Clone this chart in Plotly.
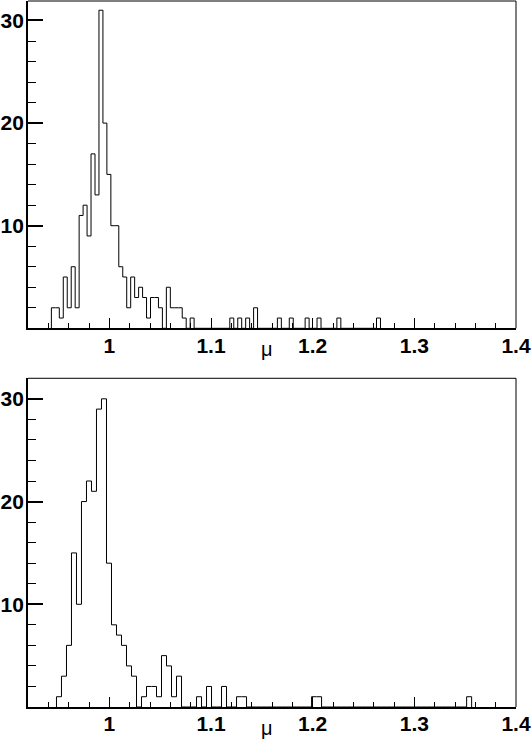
import plotly.graph_objects as go

# lower edge of first bin and bin width (x units)
top_start, top_width = 0.943, 0.0039
bot_start, bot_width = 0.948, 0.00492

top_counts = [2, 2, 1, 5, 2, 6, 2, 11, 12, 9,
              17, 13, 31, 20, 15, 10, 10, 6, 5, 2,
              5, 3, 4, 3, 1, 3, 3, 2, 0, 4,
              2, 2, 2, 1, 0, 1, 0, 0, 0, 0,
              0, 0, 0, 0, 0, 1, 0, 1, 0, 1,
              0, 2, 0, 0, 0, 0, 0, 1, 0, 0,
              1, 0, 0, 0, 1, 0, 0, 1, 0, 0,
              0, 0, 1, 0, 0, 0, 0, 0, 0, 0,
              0, 0, 1]

bot_counts = [1, 3, 6, 15, 10, 20, 22, 21, 29, 30,
              14, 8, 7, 6, 4, 3, 0, 1, 2, 2,
              1, 5, 4, 1, 3, 0, 0, 0, 1, 0,
              2, 0, 0, 2, 0, 0, 1, 1, 0, 0,
              0, 0, 0, 0, 0, 0, 0, 0, 0, 0,
              0, 1, 1, 0, 0, 0, 0, 0, 0, 0,
              0, 0, 0, 0, 0, 0, 0, 0, 0, 0,
              0, 0, 0, 0, 0, 0, 0, 0, 0, 0,
              0, 0, 1]

x_tickvals = [1.0, 1.1, 1.2, 1.3, 1.4]
x_ticktext = ["1", "1.1", "1.2", "1.3", "1.4"]
y_tickvals = [10, 20, 30]
y_ticktext = ["10", "20", "30"]
x_title = "μ"


def step_xy(start, width, counts):
    edges = [start + width * i for i in range(len(counts) + 1)]
    xs = [edges[0]] + edges[:-1] + [edges[-1]]
    ys = [0] + list(counts) + [0]
    return xs, ys


fig = go.Figure()
for counts, start, width, ax in [(top_counts, top_start, top_width, ""),
                                 (bot_counts, bot_start, bot_width, "2")]:
    xs, ys = step_xy(start, width, counts)
    fig.add_trace(go.Scatter(x=xs, y=ys, mode="lines", line_shape="hv",
                             line=dict(color="black", width=1),
                             xaxis="x" + ax, yaxis="y" + ax, showlegend=False))

tickfont = dict(family="Liberation Sans", size=21, color="black", weight="bold")

xaxis = dict(range=[0.92, 1.4], showline=True, linecolor="black", linewidth=2,
             ticks="inside", ticklen=10, tickwidth=1.3, tickcolor="black",
             tickmode="array", tickvals=x_tickvals, ticktext=x_ticktext,
             tickfont=tickfont, showgrid=False, zeroline=False, automargin=False,
             ticklabelstandoff=-3,
             minor=dict(ticks="inside", ticklen=5, tickwidth=1, tickcolor="black",
                        tickmode="linear", tick0=0.94, dtick=0.02))
yaxis = dict(showline=True, linecolor="black", linewidth=2,
             ticks="inside", ticklen=15, tickwidth=1.6, tickcolor="black",
             tickmode="array", tickvals=y_tickvals, ticktext=y_ticktext,
             tickfont=tickfont, showgrid=False, zeroline=False, automargin=False,
             ticklabelstandoff=-2,
             minor=dict(ticks="inside", ticklen=8, tickwidth=1, tickcolor="black",
                        tickmode="linear", tick0=0, dtick=2))

fig.update_layout(
    width=532, height=754,
    margin=dict(l=28, r=16, t=1, b=47),
    paper_bgcolor="white", plot_bgcolor="white",
    xaxis=dict(xaxis, anchor="y"),
    yaxis=dict(yaxis, domain=[0.5364, 1], range=[0, 31.9], anchor="x"),
    xaxis2=dict(xaxis, anchor="y2"),
    yaxis2=dict(yaxis, domain=[0, 0.4656], range=[0, 32], anchor="x2"),
)

# thin top and right frame edges, ROOT style
for ax in ["", "2"]:
    xr, yr = "x" + ax + " domain", "y" + ax + " domain"
    fig.add_shape(type="line", xref=xr, yref=yr, x0=0, x1=1, y0=1, y1=1,
                  line=dict(color="black", width=1))
    fig.add_shape(type="line", xref=xr, yref=yr, x0=1, x1=1, y0=0, y1=1,
                  line=dict(color="black", width=1))
    fig.add_annotation(text=x_title, xref="x" + ax, yref=yr, x=1.155, y=0,
                       yanchor="top", yshift=-8, showarrow=False,
                       font=dict(family="Liberation Sans", size=20, color="black"))

fig.write_html("out.html", config={"displayModeBar": False},
               post_script="document.body.style.margin='0';")
